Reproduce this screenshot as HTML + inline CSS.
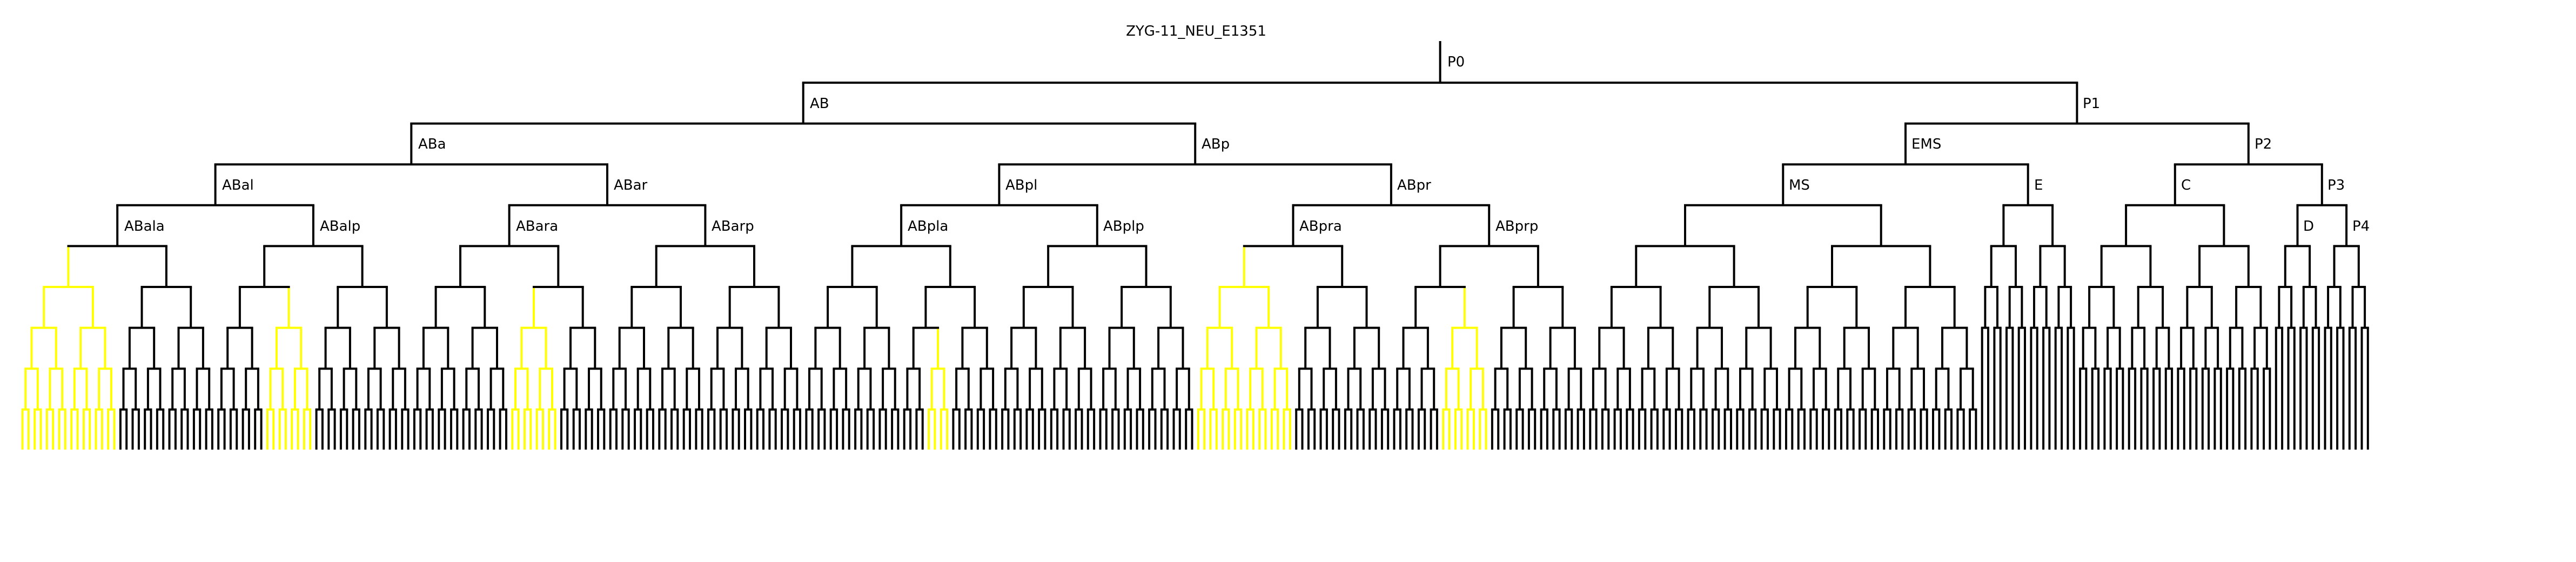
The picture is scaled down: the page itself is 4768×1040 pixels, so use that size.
<!DOCTYPE html>
<html><head><meta charset="utf-8"><style>
html,body{margin:0;padding:0;background:#fff;}
svg{display:block;}
text{font-family:"DejaVu Sans","Liberation Sans",sans-serif;font-size:26px;fill:#000;}
</style></head><body>
<svg id="s" width="4768" height="1040" viewBox="0 0 4768 1040" xmlns="http://www.w3.org/2000/svg">
<rect width="4768" height="1040" fill="#fff"/>
<g id="lines"></g>
<text x="2214" y="66" text-anchor="middle">ZYG-11_NEU_E1351</text>
<text x="2679" y="123">P0</text>
<text x="1499" y="200">AB</text>
<text x="3855" y="200">P1</text>
<text x="774" y="275">ABa</text>
<text x="2224" y="275">ABp</text>
<text x="3538" y="275">EMS</text>
<text x="4173" y="275">P2</text>
<text x="411" y="351">ABal</text>
<text x="1136" y="351">ABar</text>
<text x="1861" y="351">ABpl</text>
<text x="2586" y="351">ABpr</text>
<text x="3311" y="351">MS</text>
<text x="3765" y="351">E</text>
<text x="4037" y="351">C</text>
<text x="4308" y="351">P3</text>
<text x="230" y="427">ABala</text>
<text x="592" y="427">ABalp</text>
<text x="955" y="427">ABara</text>
<text x="1317" y="427">ABarp</text>
<text x="1680" y="427">ABpla</text>
<text x="2042" y="427">ABplp</text>
<text x="2405" y="427">ABpra</text>
<text x="2768" y="427">ABprp</text>
<text x="4263" y="427">D</text>
<text x="4354" y="427">P4</text>
</svg>
<script>
(function(){
var p=11.335, X0=41.5, Y0=153, DY=75.6, BOT=832;
var yellow={"0_16":1,"40_8":1,"80_8":1,"148_4":1,"192_16":1,"232_8":1};
function full(a,n){
  if(n===0) return {a:a,c:1,x:X0+p*a};
  var h=Math.pow(2,n-1);
  return mk(full(a,n-1),full(a+h,n-1));
}
function mk(l,r){return {a:l.a,c:l.c+r.c,l:l,r:r,x:(l.x+r.x)/2};}
var AB=full(0,8);
var EMS=mk(full(256,6),full(320,4));
var P2=mk(full(336,5),mk(full(368,3),full(376,3)));
var P1=mk(EMS,P2);
var P0=mk(AB,P1);
var out=[];
function ln(x1,y1,x2,y2,col,cap){
  out.push('<line x1="'+x1.toFixed(1)+'" y1="'+y1.toFixed(1)+'" x2="'+x2.toFixed(1)+'" y2="'+y2.toFixed(1)+'" stroke="'+col+'" stroke-width="4" stroke-linecap="'+cap+'"/>');
}
function draw(n,top,lev,col){
  if(yellow[n.a+"_"+n.c]) col="#ffff00";
  var by = n.l ? Y0+DY*lev : BOT;
  ln(n.x, top+(col==="#ffff00"&&top>100?2:0), n.x, by, col, "butt");
  if(n.l){
    ln(n.l.x, by, n.r.x, by, col, "square");
    draw(n.l, by, lev+1, col);
    draw(n.r, by, lev+1, col);
  }
}
draw(P0,76,0,"#000");
document.getElementById("lines").innerHTML=out.join("");
})();
</script>
</body></html>
